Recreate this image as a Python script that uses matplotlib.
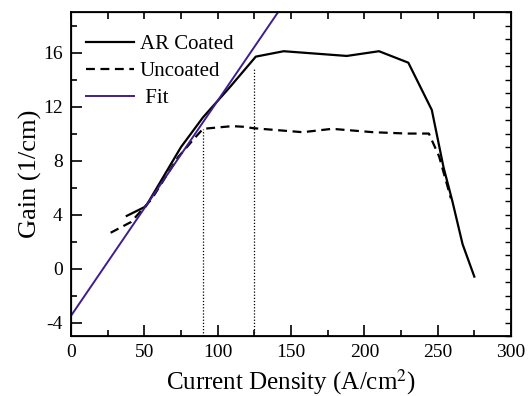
import matplotlib
matplotlib.use("Agg")
import matplotlib.pyplot as plt
from matplotlib.ticker import MultipleLocator

plt.rcParams['font.family'] = ['Liberation Serif', 'DejaVu Serif']
plt.rcParams['mathtext.fontset'] = 'stix'
plt.rcParams['axes.unicode_minus'] = False

# values
ar_x = [38, 51, 75, 90, 108, 126, 145, 188, 210, 230, 246, 254, 260, 267, 275]
ar_y = [3.9, 4.6, 9.0, 11.2, 13.4, 15.7, 16.1, 15.75, 16.1, 15.25, 11.75, 7.5, 5.0, 1.8, -0.6]
unc_x = [27, 41, 55, 73, 85, 90, 110, 118, 124, 158, 178, 206, 229, 244, 251, 259]
unc_y = [2.65, 3.45, 5.15, 8.25, 9.75, 10.35, 10.55, 10.5, 10.4, 10.1, 10.35, 10.1, 10.0, 10.0, 8.3, 5.2]
fit_x = [0, 150]
fit_y = [-3.5, 20.4]
mark_x = [90, 125]
mark_top = [10.35, 14.8]

fig = plt.figure(figsize=(5.32, 3.96), dpi=100)
ax = fig.add_axes([0.1335, 0.1515, 0.827, 0.818])

ax.plot(ar_x, ar_y, color='black', lw=1.6, label='AR Coated')
ax.plot(unc_x, unc_y, color='black', lw=1.6, ls=(0, (4, 2.5)), label='Uncoated')
ax.plot(fit_x, fit_y, color='#3f1d8f', lw=1.4, label=' Fit')
for xv, top in zip(mark_x, mark_top):
    ax.plot([xv, xv], [-5, top], color='black', lw=0.9, ls=(0, (1, 1.5)))

ax.set_xlim(0, 300)
ax.set_ylim(-5, 19)
ax.xaxis.set_major_locator(MultipleLocator(50))
ax.xaxis.set_minor_locator(MultipleLocator(25))
ax.yaxis.set_major_locator(MultipleLocator(4))
ax.yaxis.set_minor_locator(MultipleLocator(2))
ax.tick_params(which='both', direction='in', top=False, right=False, labelsize=14, width=1.2)
ax.tick_params(which='major', length=8, pad=6)
ax.tick_params(which='minor', length=4)
for s in ax.spines.values():
    s.set_linewidth(1.3)

# top and right tick marks as drawn in the source
axt = ax.twiny()
axt.set_xlim(0, 300)
axt.xaxis.set_major_locator(MultipleLocator(25))
axt.tick_params(direction='in', length=5, width=1.2, labeltop=False)
axr = ax.twinx()
axr.set_ylim(-5, 19)
axr.yaxis.set_major_locator(MultipleLocator(1))
axr.tick_params(direction='in', length=4, width=1.0, labelright=False)

ax.set_xlabel('Current Density (A/cm$^2$)', fontsize=18, labelpad=4)
ax.set_ylabel('Gain (1/cm)', fontsize=19, labelpad=1)

ax.legend(loc='upper left', frameon=False, fontsize=15, handlelength=2.3,
          handletextpad=0.3, labelspacing=0.35, borderaxespad=0.3,
          bbox_to_anchor=(0.0, 0.975))

fig.savefig('out.png', dpi=100)
